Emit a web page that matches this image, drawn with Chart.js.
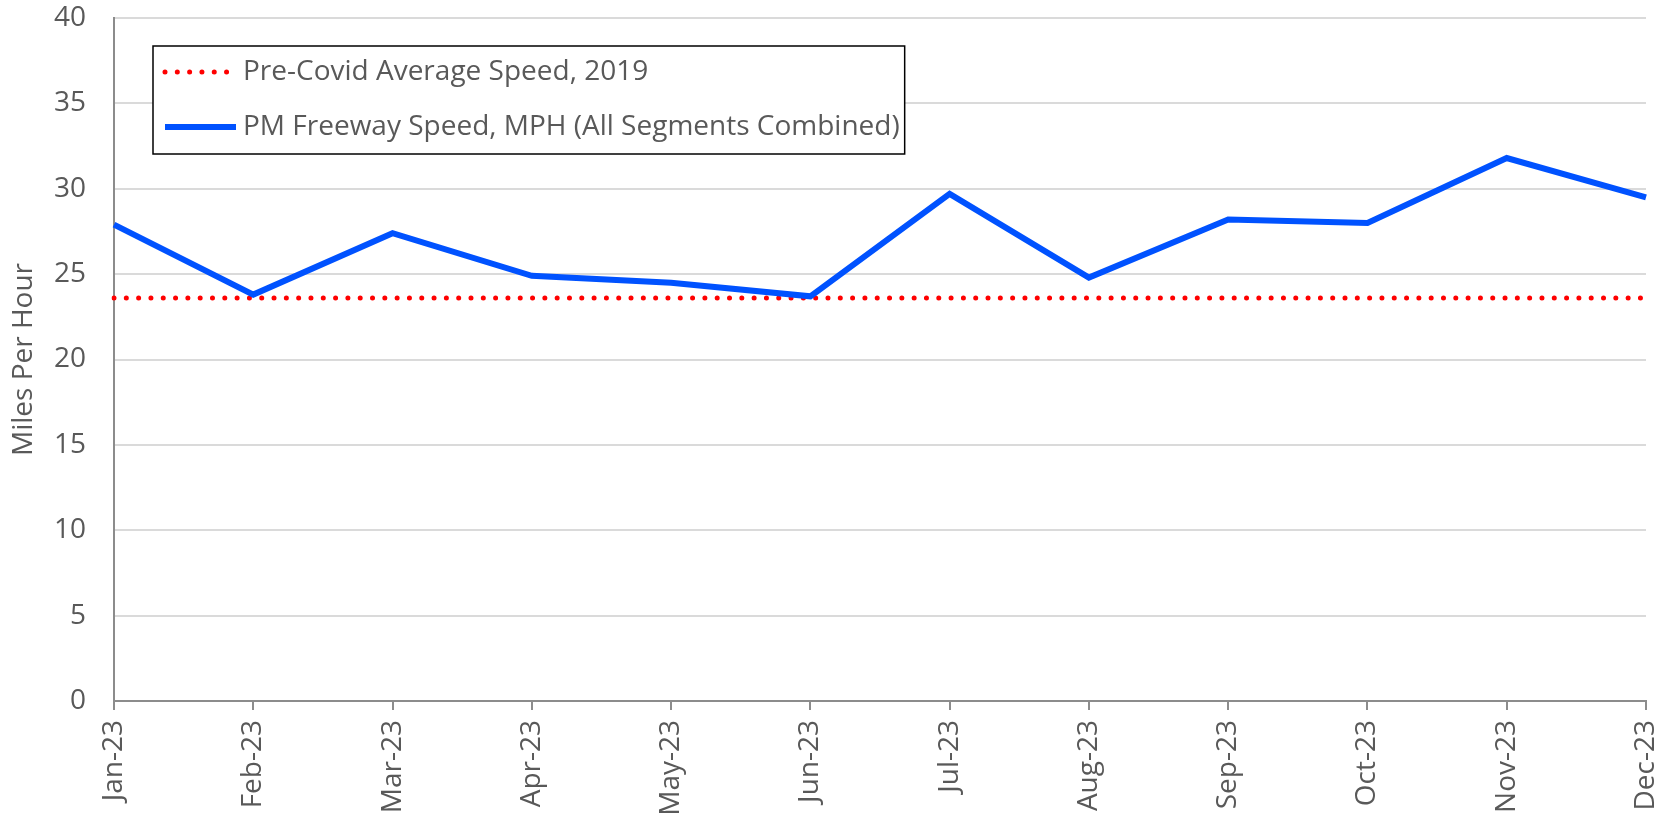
<!DOCTYPE html>
<html>
<head>
<meta charset="utf-8">
<script src="https://cdn.jsdelivr.net/npm/chart.js@4/dist/chart.umd.min.js"></script>
<style>
    html, body { margin: 0; padding: 0; background: #fff; }
    #wrap { position: relative; width: 1674px; height: 822px; }
</style>
</head>
<body>
<div id="wrap"><canvas id="speedChart"></canvas></div>
<script>
const months = ['Jan-23', 'Feb-23', 'Mar-23', 'Apr-23', 'May-23', 'Jun-23',
                'Jul-23', 'Aug-23', 'Sep-23', 'Oct-23', 'Nov-23', 'Dec-23'];
const pmFreewaySpeed = [27.9, 23.8, 27.4, 24.9, 24.5, 23.7, 29.7, 24.8, 28.2, 28.0, 31.8, 29.5];
const preCovidSpeed = [23.6, 23.6, 23.6, 23.6, 23.6, 23.6, 23.6, 23.6, 23.6, 23.6, 23.6, 23.6];
const yTicks = [0, 5, 10, 15, 20, 25, 30, 35, 40];

const textGrey = '#595959';
const blue = '#0052ff';
const red = '#ff0000';

/* ---------- boxed legend sitting inside the plot ---------- */
const boxLegend = {
    id: 'boxLegend',
    afterDraw(chart) {
        const { ctx, chartArea } = chart;
        const rows = [chart.data.datasets[1], chart.data.datasets[0]];
        const left = chartArea.left + 39;
        const top = chartArea.top + 28;
        const symX = left + 12, symW = 71;
        const textX = symX + symW + 7;
        const rowH = 55;

        ctx.save();
        ctx.font = "28px 'Open Sans'";
        const textW = Math.max(...rows.map((d) => ctx.measureText(d.label).width));
        const boxW = textX + textW + 5 - left;
        const boxH = 108;

        ctx.fillStyle = '#fff';
        ctx.fillRect(left, top, boxW, boxH);
        ctx.strokeStyle = '#000';
        ctx.lineWidth = 1.5;
        ctx.strokeRect(left, top, boxW, boxH);

        rows.forEach((d, i) => {
            const y = top + 26 + i * rowH;
            ctx.beginPath();
            ctx.strokeStyle = d.borderColor;
            ctx.lineWidth = d.borderWidth;
            ctx.lineCap = d.borderCapStyle || 'butt';
            ctx.setLineDash(d.borderDash || []);
            ctx.moveTo(symX, y);
            ctx.lineTo(symX + symW, y);
            ctx.stroke();
            ctx.setLineDash([]);
            ctx.fillStyle = textGrey;
            ctx.textBaseline = 'middle';
            ctx.fillText(d.label, textX, y);
        });
        ctx.restore();
    }
};

new Chart(document.getElementById('speedChart'), {
    type: 'line',
    data: {
        labels: months,
        datasets: [{
            label: 'PM Freeway Speed, MPH (All Segments Combined)',
            data: pmFreewaySpeed,
            borderColor: blue,
            borderWidth: 6,
            borderJoinStyle: 'miter',
            pointRadius: 0,
            tension: 0,
            order: 0
        }, {
            label: 'Pre-Covid Average Speed, 2019',
            data: preCovidSpeed,
            borderColor: red,
            borderWidth: 5,
            borderDash: [0.01, 12.3],
            borderCapStyle: 'round',
            pointRadius: 0,
            tension: 0,
            order: 1
        }]
    },
    options: {
        responsive: true,
        maintainAspectRatio: false,
        animation: false,
        layout: { padding: { top: 18, right: 28, left: 0, bottom: 0 } },
        plugins: { legend: { display: false }, tooltip: { enabled: false } },
        scales: {
            x: {
                offset: false,
                afterFit: (s) => { s.height = 121; s.paddingLeft = 0; s.paddingRight = 0; },
                grid: { drawOnChartArea: false, drawTicks: true, tickLength: 9, color: '#8c8c8c', lineWidth: 2 },
                border: { color: '#8c8c8c', width: 2 },
                ticks: {
                    minRotation: 90, maxRotation: 90, autoSkip: false, padding: 10,
                    color: textGrey, font: { family: "'Open Sans'", size: 28 }
                }
            },
            y: {
                min: 0, max: 40,
                afterFit: (s) => { s.width = 114; s.paddingTop = 0; s.paddingBottom = 0; },
                afterBuildTicks: (s) => { s.ticks = yTicks.map((v) => ({ value: v })); },
                grid: { color: '#dadada', lineWidth: 2, drawTicks: false },
                border: { color: '#8c8c8c', width: 2 },
                ticks: { padding: 28, color: textGrey, font: { family: "'Open Sans'", size: 28 } },
                title: {
                    display: true, text: 'Miles Per Hour', color: textGrey,
                    font: { family: "'Open Sans'", size: 28 }, padding: { top: 7, bottom: 0 }
                }
            }
        }
    },
    plugins: [boxLegend]
});
</script>
</body>
</html>
